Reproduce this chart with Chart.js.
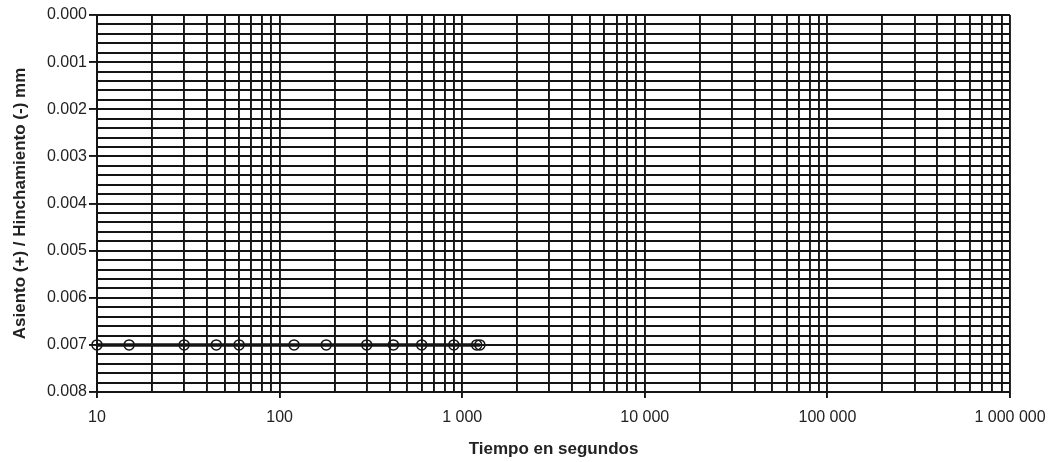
<!DOCTYPE html>
<html>
<head>
<meta charset="utf-8">
<script src="https://cdn.jsdelivr.net/npm/chart.js@4.4.1/dist/chart.umd.min.js"></script>
<style>
  html, body { margin: 0; padding: 0; background: #ffffff; }
  #wrap { width: 1053px; height: 462px; position: relative; }
</style>
</head>
<body>
<div id="wrap"><canvas id="c"></canvas></div>
<script>
// Elapsed time of each reading (s) and settlement reading (mm)
const timeSeconds = [10, 15, 30, 45, 60, 120, 180, 300, 420, 600, 900, 1200, 1250];
const settlementMm = [0.007, 0.007, 0.007, 0.007, 0.007, 0.007, 0.007, 0.007, 0.007, 0.007, 0.007, 0.007, 0.007];

// Axis ranges and labelling
const xDecades = [10, 100, 1000, 10000, 100000, 1000000];
const yMin = 0.000, yMax = 0.008, yMinorStep = 0.0002, yMajorStep = 0.001;
const xTitle = 'Tiempo en segundos';
const yTitle = 'Asiento (+) / Hinchamiento (-) mm';

const ink = '#141414';
const textInk = '#222';
const family = '"Liberation Sans", Arial, sans-serif';
const tickFont = { family, size: 16 };
const titleFont = { family, size: 17, weight: 'bold' };

// Log grid: every 1..9 multiple inside each decade
const xGridValues = [];
xDecades.forEach((d, i) => {
  if (i === xDecades.length - 1) { xGridValues.push(d); return; }
  for (let m = 1; m <= 9; m++) xGridValues.push(d * m);
});
const yGridValues = [];
for (let k = 0; k <= Math.round((yMax - yMin) / yMinorStep); k++) {
  yGridValues.push(+(yMin + k * yMinorStep).toFixed(4));
}

const isDecade = v => xDecades.includes(v);
const isYMajor = v => Math.abs(v / yMajorStep - Math.round(v / yMajorStep)) < 1e-6;
const spaced = v => String(Math.round(v)).replace(/\B(?=(\d{3})+(?!\d))/g, ' ');

new Chart(document.getElementById('c'), {
  type: 'line',
  data: {
    datasets: [{
      data: timeSeconds.map((t, i) => ({ x: t, y: settlementMm[i] })),
      borderColor: ink,
      borderWidth: 3.5,
      pointRadius: 5,
      pointBorderWidth: 1.5,
      pointBorderColor: ink,
      pointBackgroundColor: 'rgba(0,0,0,0)',
      tension: 0,
      clip: false
    }]
  },
  options: {
    responsive: true,
    maintainAspectRatio: false,
    animation: false,
    layout: { padding: { top: 15, right: 43, left: 0, bottom: 0 } },
    plugins: { legend: { display: false }, tooltip: { enabled: false } },
    scales: {
      x: {
        type: 'logarithmic',
        min: 10,
        max: 1000000,
        afterBuildTicks: axis => { axis.ticks = xGridValues.map(v => ({ value: v })); },
        afterFit: axis => { axis.height = 70; axis.paddingLeft = 0; axis.paddingRight = 0; },
        grid: {
          color: ink,
          lineWidth: 1.9,
          tickLength: 6,
          tickColor: ctx => (ctx.tick && isDecade(ctx.tick.value)) ? ink : 'rgba(0,0,0,0)'
        },
        border: { display: true, color: ink, width: 1.9 },
        ticks: {
          autoSkip: false,
          maxRotation: 0,
          color: textInk,
          font: tickFont,
          padding: 10,
          callback: v => isDecade(v) ? spaced(v) : ''
        },
        title: { display: true, text: xTitle, color: textInk, font: titleFont, padding: { top: 0, bottom: 2 } }
      },
      y: {
        type: 'linear',
        reverse: true,
        min: yMin,
        max: yMax,
        afterBuildTicks: axis => { axis.ticks = yGridValues.map(v => ({ value: v })); },
        afterFit: axis => { axis.width = 97; axis.paddingTop = 0; axis.paddingBottom = 0; },
        grid: {
          color: ink,
          lineWidth: 1.9,
          tickLength: 8,
          tickColor: ctx => (ctx.tick && isYMajor(ctx.tick.value)) ? ink : 'rgba(0,0,0,0)'
        },
        border: { display: true, color: ink, width: 1.9 },
        ticks: {
          autoSkip: false,
          color: textInk,
          font: tickFont,
          padding: 2,
          callback: v => isYMajor(v) ? v.toFixed(3) : ''
        },
        title: { display: true, text: yTitle, color: textInk, font: titleFont, padding: { top: 10, bottom: 0 } }
      }
    }
  }
});
</script>
</body>
</html>
